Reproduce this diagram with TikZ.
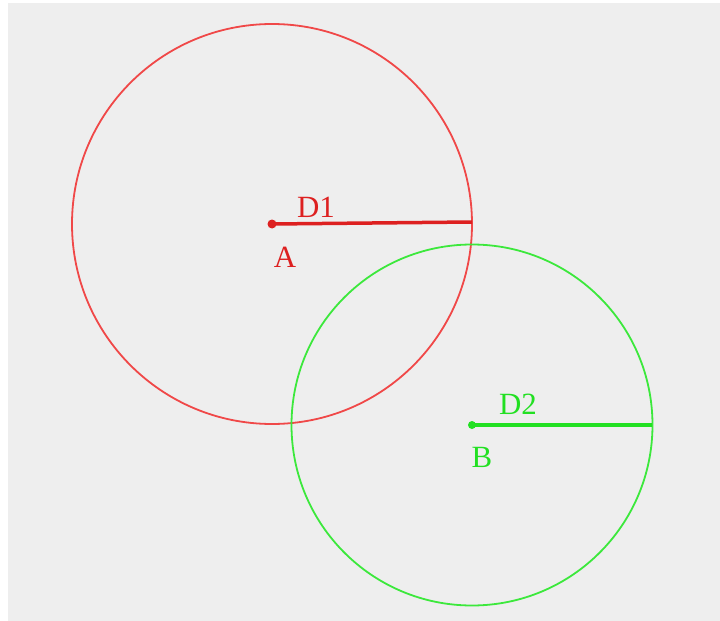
\documentclass[tikz,border=0pt]{standalone}
\usepackage{fontspec}
\setmainfont{Liberation Serif}
\definecolor{bg}{HTML}{EEEEEE}
\definecolor{redc}{HTML}{F04848}
\definecolor{redl}{HTML}{DD2020}
\definecolor{greenc}{HTML}{3CE83C}
\definecolor{greenl}{HTML}{22E022}
\begin{document}
\begin{tikzpicture}[x=1bp,y=-1bp,
  lbl/.style={font=\fontsize{31}{31}\selectfont, inner sep=0pt},
  circ/.style={line width=1.8bp},
  rad/.style={line width=3.5bp}]
\useasboundingbox (0,0) rectangle (720,621);
\fill[white] (0,0) rectangle (720,621);
\fill[bg] (8,3) rectangle (720,621);
% circle A
\coordinate (A) at (272,224);
\coordinate (A1) at (472,222);
\draw[circ, redc] (A) circle[radius=200];
\draw[rad, redl] (A) -- (A1);
\fill[redl] (A) circle[radius=4.5];
\node[lbl, text=redl] (d1) at (316,207) {D1};
\node[lbl, text=redl] (a) at (285,257) {A};
% circle B
\coordinate (B) at (472,425);
\coordinate (B1) at (652,425);
\draw[circ, greenc] (B) circle[radius=180.5];
\draw[rad, greenl] (B) -- (B1);
\fill[greenl] (B) circle[radius=4];
\node[lbl, text=greenl] (d2) at (518,404) {D2};
\node[lbl, text=greenl] (b) at (482,457) {B};
\end{tikzpicture}
\end{document}
